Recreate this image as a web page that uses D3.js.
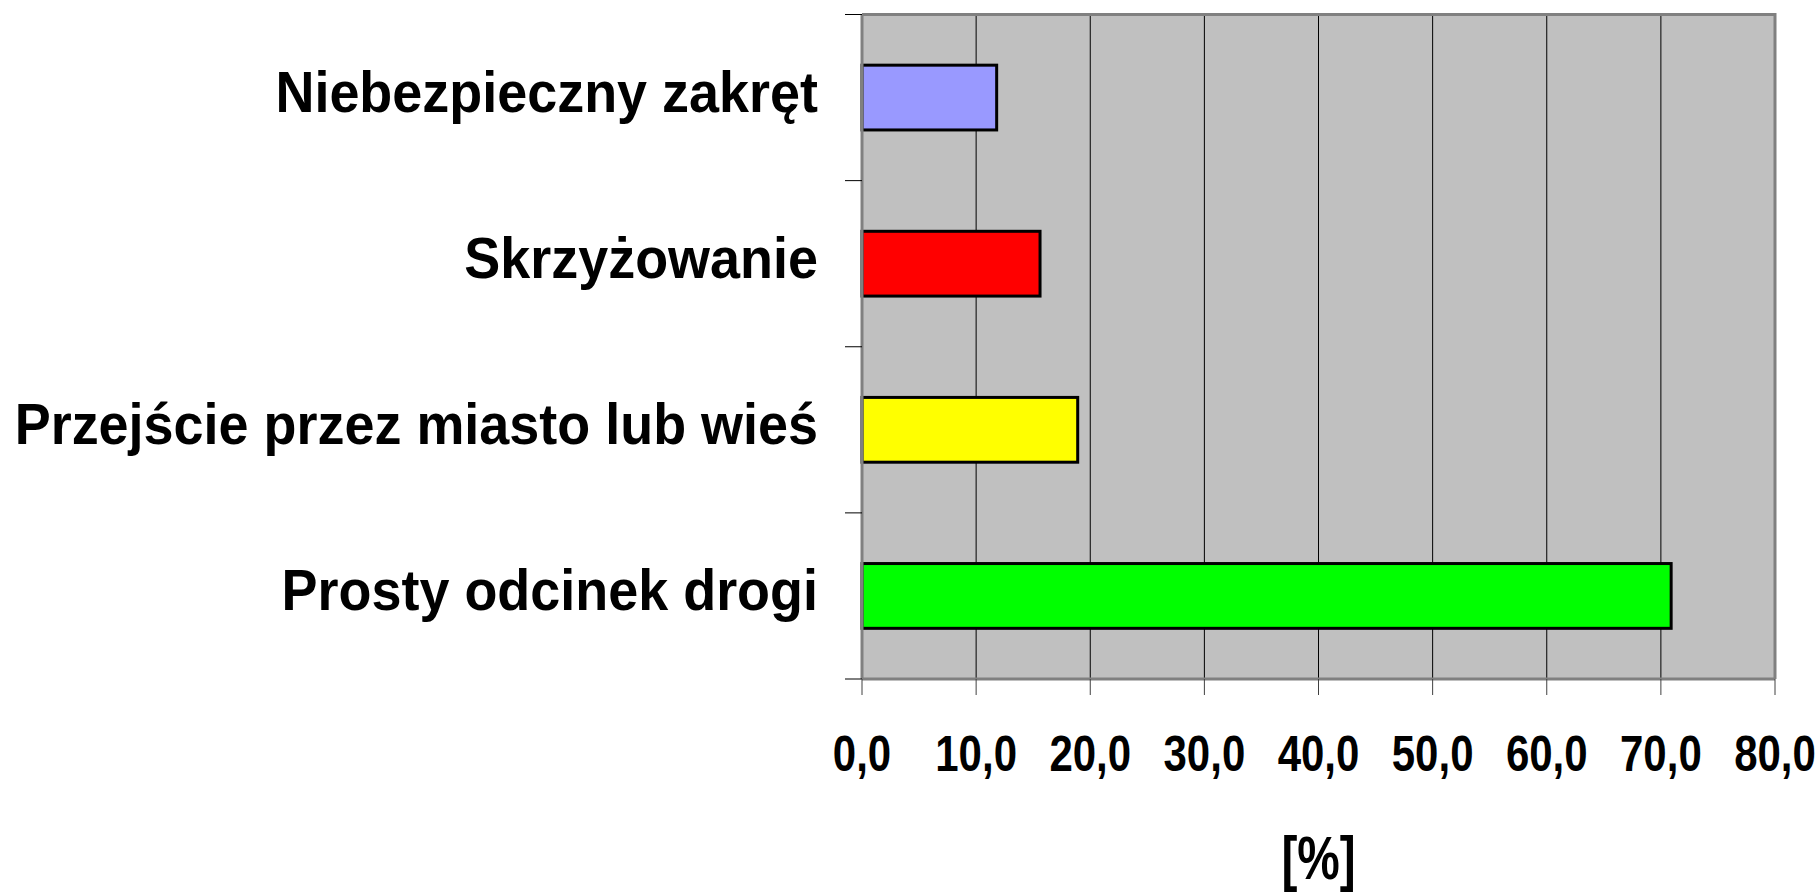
<!DOCTYPE html>
<html>
<head>
<meta charset="utf-8">
<script src="https://cdn.jsdelivr.net/npm/d3@7"></script>
<style>
  body { margin: 0; background: #fff; }
  text { font-family: "Liberation Sans", Arial, sans-serif; font-weight: bold; }
</style>
</head>
<body>
<script>
// data
const categories = ["Niebezpieczny zakręt", "Skrzyżowanie", "Przejście przez miasto lub wieś", "Prosty odcinek drogi"];
const values = [11.8, 15.6, 18.9, 70.9];
const colors = ["#9999ff", "#ff0000", "#ffff00", "#00ff00"];
const xTicks = [0, 10, 20, 30, 40, 50, 60, 70, 80];

const W = 1820, H = 893;
const plot = {left: 862, top: 14.5, right: 1775, bottom: 679};

const svg = d3.select("body").append("svg")
  .attr("width", W).attr("height", H);

const x = d3.scaleLinear().domain([0, 80]).range([plot.left, plot.right]);
const y = d3.scaleBand().domain(categories)
  .range([plot.top, plot.bottom])
  .paddingInner(0.61).paddingOuter(0.305);

// plot background
svg.append("rect")
  .attr("x", plot.left).attr("y", plot.top)
  .attr("width", plot.right - plot.left).attr("height", plot.bottom - plot.top)
  .attr("fill", "#c0c0c0");

// vertical gridlines
svg.selectAll(".grid")
  .data(xTicks.slice(1, -1))
  .enter().append("line")
  .attr("x1", d => x(d)).attr("x2", d => x(d))
  .attr("y1", plot.top).attr("y2", plot.bottom)
  .attr("stroke", "#000").attr("stroke-width", 1);

// frame: top and right grey
svg.append("path")
  .attr("d", `M${plot.left},${plot.top}H${plot.right}V${plot.bottom}`)
  .attr("fill", "none").attr("stroke", "#808080").attr("stroke-width", 3);

// bars
svg.selectAll(".bar")
  .data(categories)
  .enter().append("rect")
  .attr("x", x(0))
  .attr("y", d => y(d))
  .attr("width", (d, i) => x(values[i]) - x(0))
  .attr("height", y.bandwidth())
  .attr("fill", (d, i) => colors[i])
  .attr("stroke", "#000").attr("stroke-width", 3);

// left axis line + ticks at category boundaries
svg.append("line")
  .attr("x1", plot.left).attr("x2", plot.left)
  .attr("y1", plot.top).attr("y2", plot.bottom)
  .attr("stroke", "#808080").attr("stroke-width", 3);
const step = y.step();
const bounds = d3.range(categories.length + 1).map(i => plot.top + i * step);
svg.selectAll(".ytick")
  .data(bounds)
  .enter().append("line")
  .attr("x1", plot.left - 17).attr("x2", plot.left)
  .attr("y1", d => d).attr("y2", d => d)
  .attr("stroke", "#000").attr("stroke-width", 1);

// bottom axis
svg.append("line")
  .attr("x1", plot.left).attr("x2", plot.right)
  .attr("y1", plot.bottom).attr("y2", plot.bottom)
  .attr("stroke", "#808080").attr("stroke-width", 3);
svg.selectAll(".xtick")
  .data(xTicks)
  .enter().append("line")
  .attr("x1", d => x(d)).attr("x2", d => x(d))
  .attr("y1", plot.bottom).attr("y2", plot.bottom + 16)
  .attr("stroke", "#404040").attr("stroke-width", 1);

// tick labels (condensed look)
svg.selectAll(".xlabel")
  .data(xTicks)
  .enter().append("text")
  .attr("transform", d => `translate(${x(d)},771) scale(0.84,1)`)
  .attr("text-anchor", "middle")
  .attr("font-size", 50)
  .text(d => d.toFixed(1).replace(".", ","));

// category labels
svg.selectAll(".ylabel")
  .data(categories)
  .enter().append("text")
  .attr("transform", d => `translate(818,${y(d) + y.bandwidth() / 2 + 14}) scale(0.93,1)`)
  .attr("text-anchor", "end")
  .attr("font-size", 58)
  .text(d => d);

// axis title
svg.append("text")
  .attr("transform", `translate(${(plot.left + plot.right) / 2},879) scale(0.77,1)`)
  .attr("text-anchor", "middle")
  .attr("font-size", 62)
  .text("[%]");
</script>
</body>
</html>
